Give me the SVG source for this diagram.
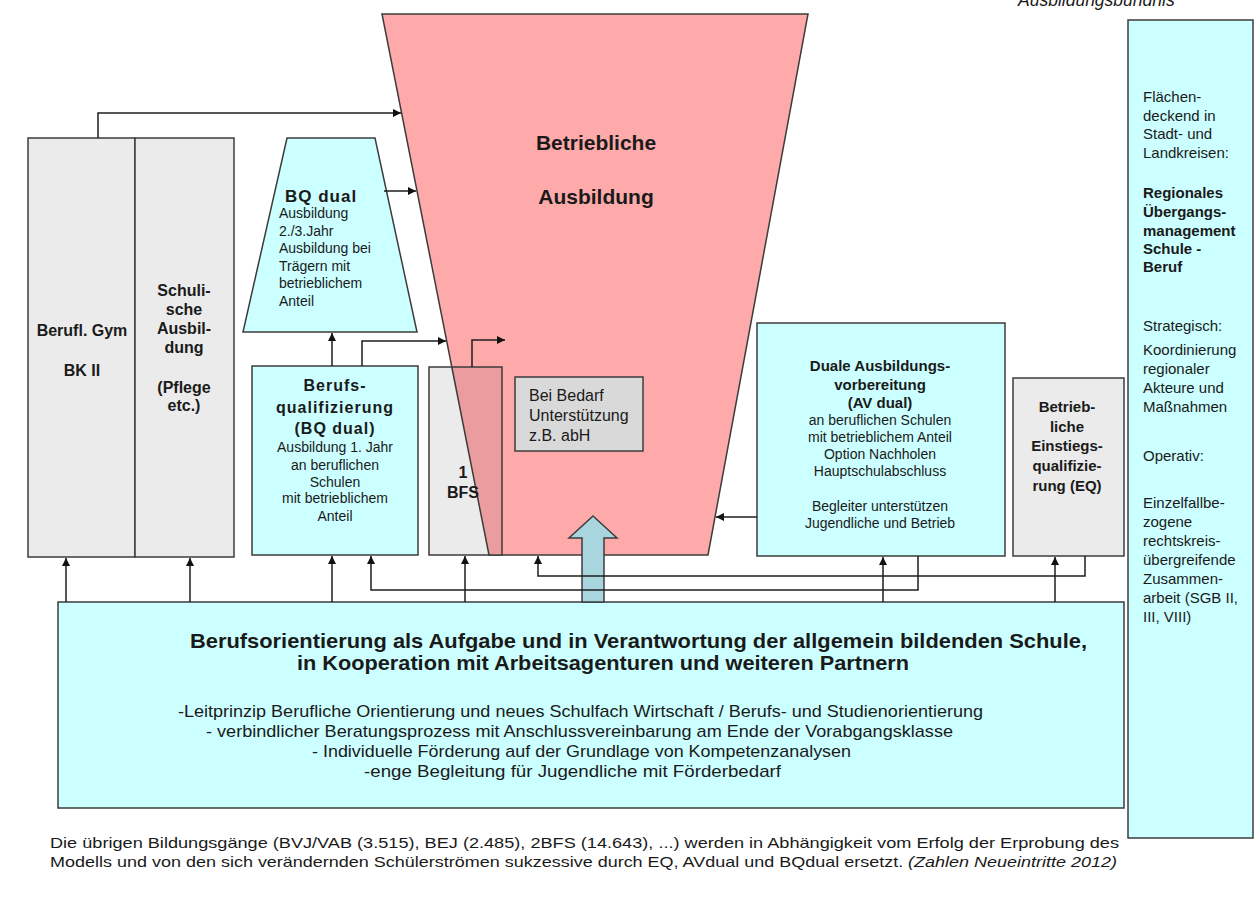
<svg xmlns="http://www.w3.org/2000/svg" width="1258" height="909" viewBox="0 0 1258 909">
<style>
text{font-family:"Liberation Sans",Arial,sans-serif;fill:#1a1a1a}
.b{font-weight:bold}
.m{text-anchor:middle}
.bx{stroke:#3c3c3c;stroke-width:1.5}
.cy{fill:#CCFFFF}
.gr{fill:#EBEBEB}
.c{fill:none;stroke:#1e1e1e;stroke-width:1.5}
</style>
<defs>
<marker id="ah" viewBox="0 0 10 10" refX="10" refY="5" markerWidth="10" markerHeight="8" markerUnits="userSpaceOnUse" orient="auto">
<path d="M0,0 L10,5 L0,10 z" fill="#111"/>
</marker>
</defs>
<rect width="1258" height="909" fill="#ffffff"/>

<g id="ausbildungsbuendnis">
<text x="1018" y="6" font-size="17.5" font-style="italic" fill="#333">Ausbildungsbündnis</text>
</g>

<g id="betriebliche-ausbildung">
<polygon points="382,14 808,14 708,555 489,555" fill="#FFAAAA" class="bx"/>
<text class="b m" x="596" y="150" font-size="21">Betriebliche</text>
<text class="b m" x="596" y="204" font-size="21">Ausbildung</text>
</g>

<g id="berufl-gym">
<rect x="28" y="138" width="107" height="419" class="bx gr"/>
<text class="b m" x="82" y="336" font-size="16">Berufl. Gym</text>
<text class="b m" x="82" y="376" font-size="16">BK II</text>
</g>

<g id="schulische-ausbildung">
<rect x="135" y="138" width="99" height="419" class="bx gr"/>
<text class="b m" x="184" font-size="16"><tspan x="184" y="296">Schuli-</tspan><tspan x="184" y="315">sche</tspan><tspan x="184" y="334">Ausbil-</tspan><tspan x="184" y="353">dung</tspan><tspan x="184" y="393">(Pflege</tspan><tspan x="184" y="411">etc.)</tspan></text>
</g>

<g id="bq-dual-aufbau">
<polygon points="287,138 375,138 417,332 243,332" class="bx cy"/>
<text class="b" x="285" y="202" font-size="17" letter-spacing="1">BQ dual</text>
<text x="279" font-size="14"><tspan x="279" y="218">Ausbildung</tspan><tspan x="279" y="236">2./3.Jahr</tspan><tspan x="279" y="253">Ausbildung bei</tspan><tspan x="279" y="271">Trägern mit</tspan><tspan x="279" y="288">betrieblichem</tspan><tspan x="279" y="306">Anteil</tspan></text>
</g>

<g id="berufsqualifizierung">
<rect x="252" y="366" width="166" height="189" class="bx cy"/>
<text class="b m" font-size="16" letter-spacing="1"><tspan x="335" y="391">Berufs-</tspan><tspan x="335" y="413">qualifizierung</tspan><tspan x="335" y="434">(BQ dual)</tspan></text>
<text class="m" font-size="14"><tspan x="335" y="452">Ausbildung 1. Jahr</tspan><tspan x="335" y="470">an beruflichen</tspan><tspan x="335" y="487">Schulen</tspan><tspan x="335" y="503">mit betrieblichem</tspan><tspan x="335" y="521">Anteil</tspan></text>
</g>

<g id="bfs">
<polygon points="429,367 451.8,367 489,555 429,555" class="gr"/>
<polygon points="451.8,367 502,367 502,555 489,555" fill="#EA9C9E"/>
<rect x="429" y="367" width="73" height="188" fill="none" class="bx"/>
<line x1="451.8" y1="367" x2="489" y2="555" class="bx"/>
<text class="b m" x="463" y="478" font-size="16">1</text>
<text class="b m" x="463" y="498" font-size="16">BFS</text>
</g>

<g id="bei-bedarf">
<rect x="515" y="377" width="128" height="74" fill="#D9D9D9" class="bx"/>
<text x="529" font-size="16"><tspan x="529" y="401">Bei Bedarf</tspan><tspan x="529" y="421">Unterstützung</tspan><tspan x="529" y="441">z.B. abH</tspan></text>
</g>

<g id="av-dual">
<rect x="757" y="323" width="248" height="233" class="bx cy"/>
<text class="b m" font-size="15"><tspan x="880" y="371">Duale Ausbildungs-</tspan><tspan x="880" y="390">vorbereitung</tspan><tspan x="880" y="408">(AV dual)</tspan></text>
<text class="m" font-size="14"><tspan x="880" y="425">an beruflichen Schulen</tspan><tspan x="880" y="442">mit betrieblichem Anteil</tspan><tspan x="880" y="459">Option Nachholen</tspan><tspan x="880" y="476">Hauptschulabschluss</tspan><tspan x="880" y="511">Begleiter unterstützen</tspan><tspan x="880" y="528">Jugendliche und Betrieb</tspan></text>
</g>

<g id="eq">
<rect x="1013" y="378" width="111" height="178" class="bx gr"/>
<text class="b m" font-size="15"><tspan x="1067" y="412">Betrieb-</tspan><tspan x="1067" y="432">liche</tspan><tspan x="1067" y="451">Einstiegs-</tspan><tspan x="1067" y="471">qualifizie-</tspan><tspan x="1067" y="491">rung (EQ)</tspan></text>
</g>

<g id="uebergangsmanagement">
<rect x="1128" y="20" width="125" height="818" class="bx cy"/>
<text x="1143" font-size="15"><tspan x="1143" y="102">Flächen-</tspan><tspan x="1143" y="121">deckend in</tspan><tspan x="1143" y="139">Stadt- und</tspan><tspan x="1143" y="158">Landkreisen:</tspan></text>
<text class="b" x="1143" font-size="15"><tspan x="1143" y="198">Regionales</tspan><tspan x="1143" y="217">Übergangs-</tspan><tspan x="1143" y="236">management</tspan><tspan x="1143" y="254">Schule -</tspan><tspan x="1143" y="272">Beruf</tspan></text>
<text x="1143" font-size="15"><tspan x="1143" y="331">Strategisch:</tspan><tspan x="1143" y="355">Koordinierung</tspan><tspan x="1143" y="374">regionaler</tspan><tspan x="1143" y="393">Akteure und</tspan><tspan x="1143" y="412">Maßnahmen</tspan><tspan x="1143" y="461">Operativ:</tspan><tspan x="1143" y="508">Einzelfallbe-</tspan><tspan x="1143" y="527">zogene</tspan><tspan x="1143" y="546">rechtskreis-</tspan><tspan x="1143" y="565">übergreifende</tspan><tspan x="1143" y="584">Zusammen-</tspan><tspan x="1143" y="603">arbeit (SGB II,</tspan><tspan x="1143" y="622">III, VIII)</tspan></text>
</g>

<g id="berufsorientierung">
<rect x="58" y="602" width="1066" height="206" class="bx cy"/>
<text class="b" x="190" y="648" font-size="21" textLength="897" lengthAdjust="spacingAndGlyphs">Berufsorientierung als Aufgabe und in Verantwortung  der allgemein bildenden Schule,</text>
<text class="b" x="297" y="670" font-size="21" textLength="612" lengthAdjust="spacingAndGlyphs">in Kooperation mit Arbeitsagenturen und weiteren Partnern</text>
<text x="178" y="717" font-size="17" textLength="805" lengthAdjust="spacingAndGlyphs">-Leitprinzip Berufliche Orientierung und neues Schulfach Wirtschaft / Berufs- und Studienorientierung</text>
<text x="206" y="737" font-size="17" textLength="747" lengthAdjust="spacingAndGlyphs">- verbindlicher Beratungsprozess mit Anschlussvereinbarung am Ende der Vorabgangsklasse</text>
<text x="312" y="757" font-size="17" textLength="539" lengthAdjust="spacingAndGlyphs">- Individuelle Förderung auf der Grundlage von Kompetenzanalysen</text>
<text x="364" y="777" font-size="17" textLength="417" lengthAdjust="spacingAndGlyphs">-enge Begleitung für Jugendliche mit Förderbedarf</text>
</g>

<g id="blue-arrow">
<polygon points="593,516 617,538 604,538 604,602 582,602 582,538 569,538" fill="#A9D5DE" class="bx"/>
</g>

<g id="connectors">
<path class="c" d="M98,138 V113 H401" marker-end="url(#ah)"/>
<path class="c" d="M384,191 H416" marker-end="url(#ah)"/>
<path class="c" d="M332,366 V333" marker-end="url(#ah)"/>
<path class="c" d="M362,366 V341 H446" marker-end="url(#ah)"/>
<path class="c" d="M472,367 V340 H505" marker-end="url(#ah)"/>
<path class="c" d="M757,517 H716" marker-end="url(#ah)"/>
<path class="c" d="M66,602 V558" marker-end="url(#ah)"/>
<path class="c" d="M190,602 V558" marker-end="url(#ah)"/>
<path class="c" d="M332,602 V556" marker-end="url(#ah)"/>
<path class="c" d="M465,602 V556" marker-end="url(#ah)"/>
<path class="c" d="M883,602 V557" marker-end="url(#ah)"/>
<path class="c" d="M1055,602 V557" marker-end="url(#ah)"/>
<path class="c" d="M918,556 V590 H371 V556" marker-end="url(#ah)"/>
<path class="c" d="M1085,556 V576 H538 V556" marker-end="url(#ah)"/>
</g>

<g id="footer">
<text x="50" y="848" font-size="15" textLength="1069" lengthAdjust="spacingAndGlyphs">Die übrigen Bildungsgänge (BVJ/VAB (3.515), BEJ (2.485), 2BFS (14.643), ...)  werden in Abhängigkeit vom Erfolg der Erprobung des</text>
<text x="50" y="867" font-size="15" textLength="1067" lengthAdjust="spacingAndGlyphs">Modells und von den sich verändernden Schülerströmen sukzessive durch EQ, AVdual und BQdual ersetzt. <tspan font-style="italic">(Zahlen Neueintritte 2012)</tspan></text>
</g>
</svg>
